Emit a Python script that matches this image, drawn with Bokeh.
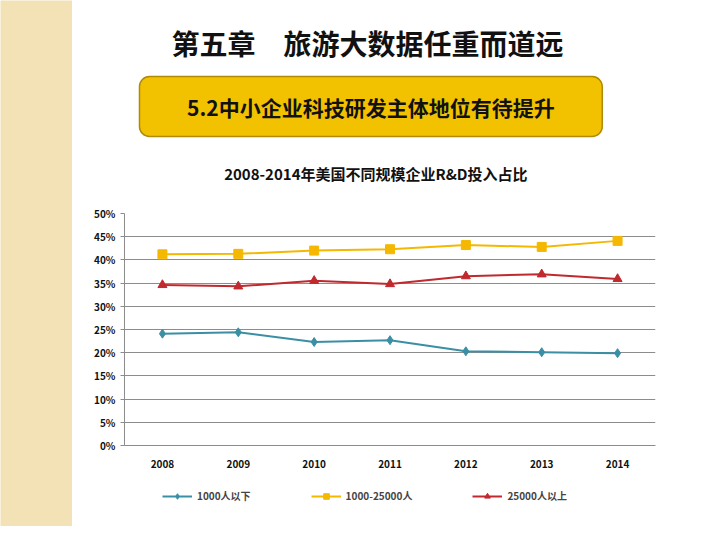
from bokeh.plotting import figure
from bokeh.layouts import row, column
from bokeh.models import Range1d, FixedTicker, Legend, LegendItem, NumeralTickFormatter
from bokeh.core.properties import value
from bokeh.embed import file_html
from bokeh.resources import INLINE

years = ["2008", "2009", "2010", "2011", "2012", "2013", "2014"]
small = [0.241, 0.244, 0.223, 0.227, 0.203, 0.201, 0.199]
mid = [0.412, 0.413, 0.420, 0.423, 0.432, 0.428, 0.441]
large = [0.346, 0.343, 0.355, 0.348, 0.365, 0.369, 0.359]
names = ["1000人以下", "1000-25000人", "25000人以上"]

FONT = "Noto Sans CJK SC"

strip = figure(width=72, height=526, output_backend="svg", toolbar_location=None,
               x_range=(0, 1), y_range=(0, 1), min_border=0)
strip.axis.visible = False
strip.grid.visible = False
strip.outline_line_color = None
strip.background_fill_color = "#F3E2B5"
strip.border_fill_color = "#F3E2B5"

hdr = figure(width=638, height=192, output_backend="svg", toolbar_location=None,
             x_range=Range1d(0, 638), y_range=Range1d(192, 0), min_border=0)
hdr.axis.visible = False
hdr.grid.visible = False
hdr.outline_line_color = None
hdr.rect(x=[296], y=[106], width=[556], height=[60], fill_color="#F2C200",
         line_color="#B08A00", line_width=1.5, border_radius=10)
hdr.text(x=[292], y=[42], text=["第五章\u3000旅游大数据任重而道远"], text_font=value(FONT),
         text_font_style="bold", text_font_size="28px", text_align="center",
         text_baseline="middle", text_color="#111111")
hdr.text(x=[296], y=[106], text=["5.2中小企业科技研发主体地位有待提升"], text_font=value(FONT),
         text_font_style="bold", text_font_size="21px", text_align="center",
         text_baseline="middle", text_color="#111111")
hdr.text(x=[302], y=[173], text=["2008-2014年美国不同规模企业R&D投入占比"], text_font=value(FONT),
         text_font_style="bold", text_font_size="15px", text_align="center",
         text_baseline="middle", text_color="#111111")

p = figure(frame_width=531, frame_height=232, output_backend="svg", toolbar_location=None,
           x_range=Range1d(-0.5, 6.5), y_range=Range1d(0, 0.5),
           min_border_left=52, min_border_right=55, min_border_top=21, min_border_bottom=30)
p.outline_line_color = None
p.xgrid.visible = False
p.ygrid.grid_line_color = "#8C8C8C"
p.yaxis.ticker = FixedTicker(ticks=[i * 0.05 for i in range(11)])
p.yaxis.formatter = NumeralTickFormatter(format="0%")
p.xaxis.ticker = FixedTicker(ticks=list(range(7)))
p.xaxis.major_label_overrides = {i: y for i, y in enumerate(years)}
p.xaxis.minor_tick_line_color = None
p.yaxis.minor_tick_line_color = None
p.yaxis.major_tick_in = 0
p.yaxis.major_tick_out = 4
for ax in (p.xaxis, p.yaxis):
    ax.axis_line_color = "#8C8C8C"
    ax.major_tick_line_color = "#8C8C8C"
    ax.major_label_text_font = FONT
    ax.major_label_text_font_style = "bold"
    ax.major_label_text_font_size = "10px"
    ax.major_label_text_color = "#111111"
p.xaxis.major_tick_line_color = None
p.xaxis.major_label_standoff = 8

xs = list(range(7))
cols = ["#3A8FA5", "#F5B800", "#C0292E"]
markers = ["diamond", "square", "triangle"]
for vals, c, m in zip([small, mid, large], cols, markers):
    p.line(xs, vals, color=c, line_width=2)
    p.scatter(xs, vals, marker=m, size=9, color=c)

lf = figure(width=638, height=50, output_backend="svg", toolbar_location=None,
            x_range=(0, 1), y_range=(0, 1), min_border=0)
lf.axis.visible = False
lf.grid.visible = False
lf.outline_line_color = None
items = []
for n, c, m in zip(names, cols, markers):
    rl = lf.line([-5, -4], [-5, -4], color=c, line_width=2)
    rs = lf.scatter([-5], [-5], marker=m, size=9, color=c)
    items.append(LegendItem(label=n, renderers=[rl, rs]))
leg = Legend(items=items, orientation="horizontal", spacing=60, border_line_color=None,
             background_fill_alpha=0,
             label_text_font=FONT, label_text_font_style="bold", label_text_font_size="10px",
             glyph_width=30, glyph_height=14, label_height=14, margin=0, padding=0,
             location=(38, 22))
lf.add_layout(leg, "center")

out = row(strip, column(hdr, p, lf))
open("out.html", "w").write(file_html(out, INLINE))
